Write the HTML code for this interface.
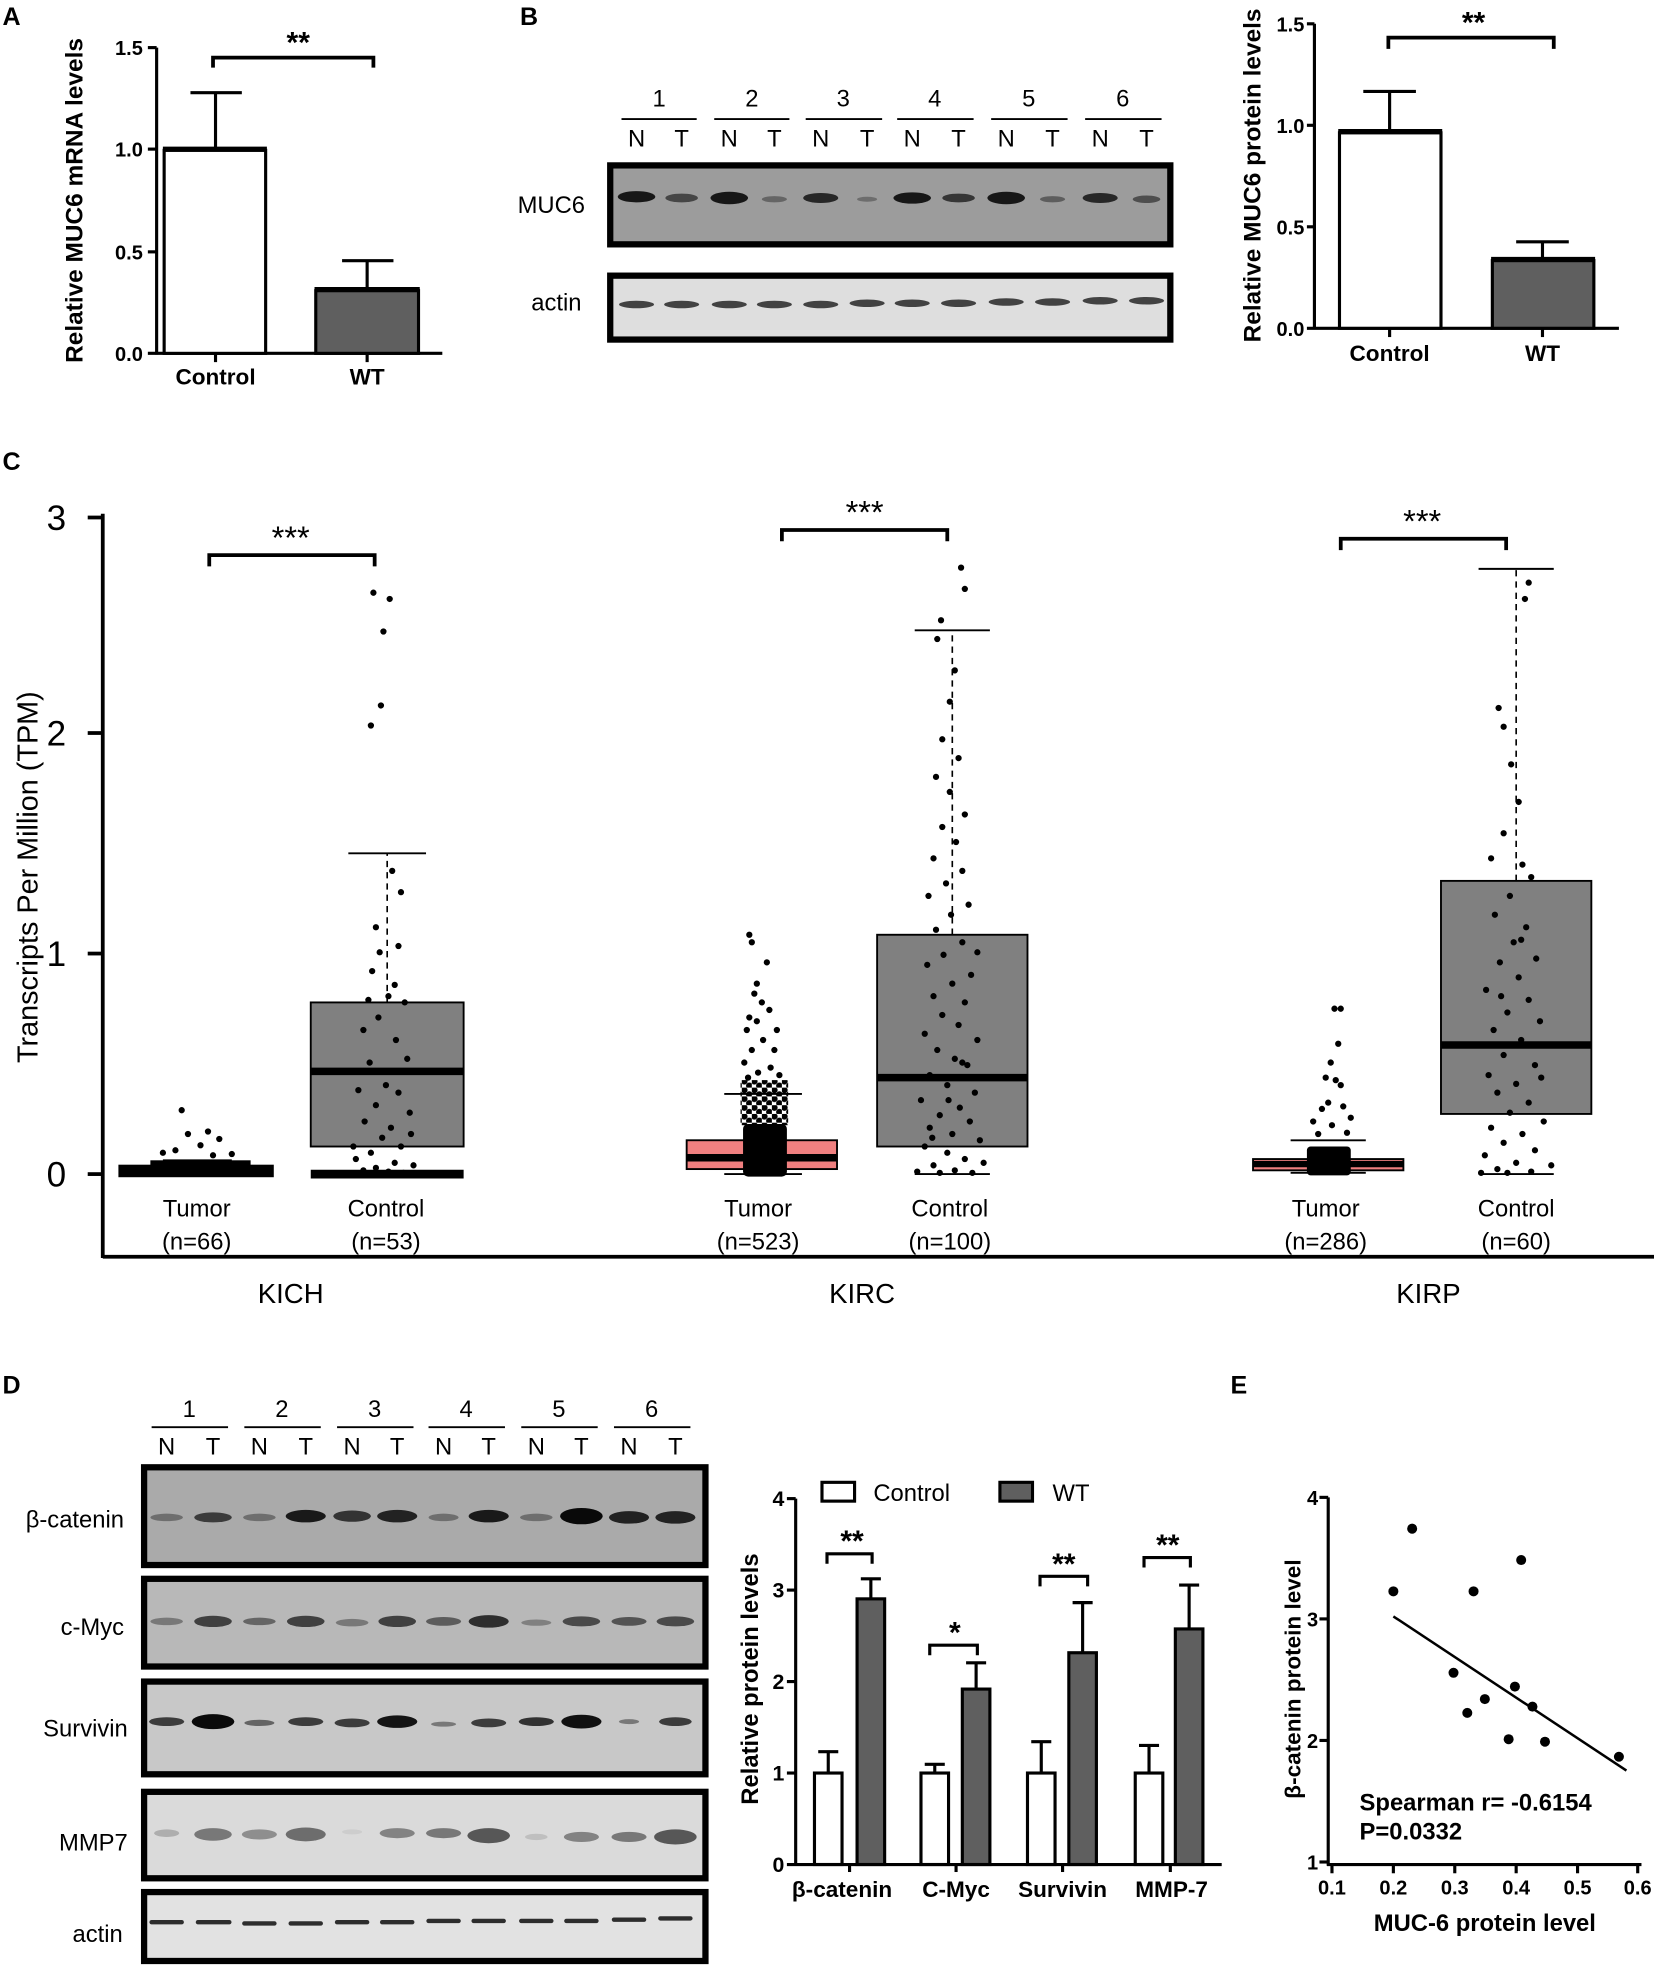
<!DOCTYPE html>
<html><head><meta charset="utf-8"><style>
html,body{margin:0;padding:0;background:#fff;}
svg{display:block;}
text{font-family:"Liberation Sans",Arial,sans-serif;fill:#000;}
.b{font-weight:bold;}
</style></head><body>
<svg xmlns="http://www.w3.org/2000/svg" width="1654" height="1966" viewBox="0 0 1320 1569">
<defs>
<pattern id="dp2" width="8" height="7" patternUnits="userSpaceOnUse">
<circle cx="2" cy="2" r="2.6" fill="#000"/><circle cx="6" cy="5.5" r="2.6" fill="#000"/>
</pattern>
</defs>
<rect width="1320" height="1569" fill="#fff"/>
<text x="2" y="20" font-size="20" class="b">A</text>
<text x="415" y="20" font-size="20" class="b">B</text>
<text x="2" y="375" font-size="20" class="b">C</text>
<text x="2" y="1112" font-size="20" class="b">D</text>
<text x="982" y="1112" font-size="20" class="b">E</text>

<!-- Panel A -->
<g stroke="#000" stroke-width="2.5" fill="none">
<line x1="125" y1="38" x2="125" y2="283"/>
<line x1="118" y1="38" x2="125" y2="38"/><line x1="118" y1="119" x2="125" y2="119"/><line x1="118" y1="201" x2="125" y2="201"/>
<line x1="118" y1="282" x2="353" y2="282"/>
<line x1="172" y1="282" x2="172" y2="289"/><line x1="293" y1="282" x2="293" y2="289"/>
<rect x="131" y="120" width="81" height="162" fill="#fff"/>
<rect x="252" y="232" width="82" height="50" fill="#5f5f5f"/>
<line x1="172" y1="119" x2="172" y2="74"/><line x1="152" y1="74" x2="193" y2="74"/>
<line x1="293" y1="231" x2="293" y2="208"/><line x1="273" y1="208" x2="314" y2="208"/>
<line x1="130" y1="119" x2="213" y2="119" stroke-width="4"/>
<line x1="251" y1="231" x2="335" y2="231" stroke-width="4"/>
<polyline points="170,54 170,46 298,46 298,54" stroke-width="3"/>
</g>
<g font-size="16" text-anchor="end" class="b">
<text x="114" y="44">1.5</text><text x="114" y="125">1.0</text><text x="114" y="207">0.5</text><text x="114" y="288">0.0</text>
</g>
<text x="172" y="307" font-size="18" class="b" text-anchor="middle">Control</text>
<text x="293" y="307" font-size="18" class="b" text-anchor="middle">WT</text>
<text x="238" y="42" font-size="24" class="b" text-anchor="middle">**</text>
<text transform="translate(66,160) rotate(-90)" font-size="19.5" class="b" text-anchor="middle">Relative MUC6 mRNA levels</text>

<!-- Panel B blot -->
<g font-size="19" text-anchor="middle">
<text x="526" y="85">1</text><text x="600" y="85">2</text><text x="673" y="85">3</text><text x="746" y="85">4</text><text x="821" y="85">5</text><text x="896" y="85">6</text>
<text x="508" y="117">N</text><text x="544" y="117">T</text><text x="582" y="117">N</text><text x="618" y="117">T</text><text x="655" y="117">N</text><text x="692" y="117">T</text>
<text x="728" y="117">N</text><text x="765" y="117">T</text><text x="803" y="117">N</text><text x="840" y="117">T</text><text x="878" y="117">N</text><text x="915" y="117">T</text>
</g>
<g stroke="#000" stroke-width="1.5">
<line x1="496" x2="556" y1="95" y2="95"/><line x1="570" x2="630" y1="95" y2="95"/><line x1="643" x2="704" y1="95" y2="95"/>
<line x1="716" x2="777" y1="95" y2="95"/><line x1="791" x2="852" y1="95" y2="95"/><line x1="866" x2="927" y1="95" y2="95"/>
</g>
<text x="440" y="170" font-size="19" text-anchor="middle">MUC6</text>
<text x="444" y="248" font-size="19" text-anchor="middle">actin</text>
<rect x="487" y="132" width="447" height="63" fill="#9c9c9c" stroke="#000" stroke-width="5"/>
<rect x="487" y="220" width="447" height="51" fill="#dedede" stroke="#000" stroke-width="5"/>
<g fill="#000">
<ellipse cx="508" cy="157" rx="15" ry="4.5" fill-opacity=".85"/><ellipse cx="544" cy="158" rx="13" ry="3.5" fill-opacity=".55"/>
<ellipse cx="582" cy="158" rx="15" ry="5" fill-opacity=".85"/><ellipse cx="618" cy="159" rx="10" ry="2.5" fill-opacity=".35"/>
<ellipse cx="655" cy="158" rx="14" ry="4" fill-opacity=".75"/><ellipse cx="692" cy="159" rx="8" ry="2" fill-opacity=".3"/>
<ellipse cx="728" cy="158" rx="15" ry="4.5" fill-opacity=".85"/><ellipse cx="765" cy="158" rx="13" ry="3.5" fill-opacity=".65"/>
<ellipse cx="803" cy="158" rx="15" ry="5" fill-opacity=".85"/><ellipse cx="840" cy="159" rx="10" ry="2.5" fill-opacity=".4"/>
<ellipse cx="878" cy="158" rx="14" ry="4" fill-opacity=".75"/><ellipse cx="915" cy="159" rx="11" ry="3" fill-opacity=".5"/>
<ellipse cx="508" cy="243" rx="14" ry="3" fill-opacity=".7"/><ellipse cx="544" cy="243" rx="14" ry="3" fill-opacity=".7"/>
<ellipse cx="582" cy="243" rx="14" ry="3" fill-opacity=".7"/><ellipse cx="618" cy="243" rx="14" ry="3" fill-opacity=".7"/>
<ellipse cx="655" cy="243" rx="14" ry="3" fill-opacity=".7"/><ellipse cx="692" cy="242" rx="14" ry="3" fill-opacity=".7"/>
<ellipse cx="728" cy="242" rx="14" ry="3" fill-opacity=".7"/><ellipse cx="765" cy="242" rx="14" ry="3" fill-opacity=".7"/>
<ellipse cx="803" cy="241" rx="14" ry="3" fill-opacity=".7"/><ellipse cx="840" cy="241" rx="14" ry="3" fill-opacity=".7"/>
<ellipse cx="878" cy="240" rx="14" ry="3" fill-opacity=".7"/><ellipse cx="915" cy="240" rx="14" ry="3" fill-opacity=".7"/>
</g>

<!-- Panel B chart -->
<g stroke="#000" stroke-width="2.5" fill="none">
<line x1="1049" y1="19" x2="1049" y2="263"/>
<line x1="1043" y1="19" x2="1049" y2="19"/><line x1="1043" y1="100" x2="1049" y2="100"/><line x1="1043" y1="181" x2="1049" y2="181"/>
<line x1="1043" y1="262" x2="1292" y2="262"/>
<line x1="1109" y1="262" x2="1109" y2="269"/><line x1="1231" y1="262" x2="1231" y2="269"/>
<rect x="1069" y="106" width="81" height="156" fill="#fff"/>
<rect x="1191" y="208" width="81" height="54" fill="#5f5f5f"/>
<line x1="1109" y1="105" x2="1109" y2="73"/><line x1="1088" y1="73" x2="1130" y2="73"/>
<line x1="1231" y1="207" x2="1231" y2="193"/><line x1="1210" y1="193" x2="1252" y2="193"/>
<line x1="1068" y1="105" x2="1151" y2="105" stroke-width="4"/>
<line x1="1190" y1="207" x2="1273" y2="207" stroke-width="4"/>
<polyline points="1108,39 1108,30 1240,30 1240,39" stroke-width="3"/>
</g>
<g font-size="16" text-anchor="end" class="b">
<text x="1041" y="25">1.5</text><text x="1041" y="106">1.0</text><text x="1041" y="187">0.5</text><text x="1041" y="268">0.0</text>
</g>
<text transform="translate(1006,140) rotate(-90)" font-size="19.5" class="b" text-anchor="middle">Relative MUC6 protein levels</text>
<text x="1109" y="288" font-size="18" class="b" text-anchor="middle">Control</text>
<text x="1231" y="288" font-size="18" class="b" text-anchor="middle">WT</text>
<text x="1176" y="26" font-size="24" class="b" text-anchor="middle">**</text>

<!-- Panel C -->
<g stroke="#000" stroke-width="3" fill="none">
<line x1="82" y1="410" x2="82" y2="1004"/>
<line x1="82" y1="1003" x2="1320" y2="1003"/>
<line x1="70" y1="413" x2="82" y2="413"/><line x1="70" y1="585" x2="82" y2="585"/><line x1="70" y1="761" x2="82" y2="761"/><line x1="70" y1="937" x2="82" y2="937"/>
</g>
<g font-size="28" text-anchor="middle">
<text x="45" y="423">3</text><text x="45" y="595">2</text><text x="45" y="771">1</text><text x="45" y="947">0</text>
</g>
<text transform="translate(30,700) rotate(-90)" font-size="23" text-anchor="middle">Transcripts Per Million (TPM)</text>
<g stroke="#000" stroke-width="1.5">
<rect x="248" y="800" width="122" height="115" fill="#808080"/>
<rect x="700" y="746" width="120" height="169" fill="#808080"/>
<rect x="1150" y="703" width="120" height="186" fill="#808080"/>
<rect x="548" y="910" width="120" height="23" fill="#f08080"/>
<rect x="1000" y="925" width="120" height="9" fill="#f08080"/>
</g>
<g stroke="#000" fill="none">
<rect x="95" y="930" width="123" height="9" fill="#000"/>
<line x1="248" y1="937" x2="370" y2="937" stroke-width="7"/>
<line x1="248" y1="855" x2="370" y2="855" stroke-width="6"/>
<line x1="700" y1="860" x2="820" y2="860" stroke-width="6"/>
<line x1="1150" y1="834" x2="1270" y2="834" stroke-width="6"/>
<line x1="548" y1="924" x2="668" y2="924" stroke-width="6"/>
<line x1="1000" y1="929" x2="1120" y2="929" stroke-width="5"/>
<line x1="309" y1="800" x2="309" y2="681" stroke-dasharray="5,4" stroke-width="1.3"/>
<line x1="760" y1="746" x2="760" y2="503" stroke-dasharray="5,4" stroke-width="1.3"/>
<line x1="1210" y1="703" x2="1210" y2="454" stroke-dasharray="5,4" stroke-width="1.3"/>
<g stroke-width="1.5">
<line x1="278" y1="681" x2="340" y2="681"/>
<line x1="730" y1="503" x2="790" y2="503"/><line x1="730" y1="937" x2="790" y2="937"/>
<line x1="1180" y1="454" x2="1240" y2="454"/><line x1="1180" y1="937" x2="1240" y2="937"/>
<line x1="578" y1="873" x2="640" y2="873"/><line x1="578" y1="937" x2="640" y2="937"/>
<line x1="1030" y1="910" x2="1090" y2="910"/><line x1="1030" y1="936" x2="1090" y2="936"/>
<line x1="130" y1="926" x2="185" y2="926"/>
</g>
<polyline points="167,452 167,443 299,443 299,452" stroke-width="3"/>
<polyline points="624,432 624,423 756,423 756,432" stroke-width="3"/>
<polyline points="1070,439 1070,430 1202,430 1202,439" stroke-width="3"/>
</g>
<!-- dense dot clouds -->
<rect x="593" y="897" width="35" height="42" rx="4" fill="#000"/>
<rect x="591" y="862" width="38" height="36" fill="url(#dp2)"/>
<rect x="1043" y="915" width="35" height="23" rx="3" fill="#000"/>
<rect x="120" y="926" width="80" height="6" fill="#000"/>
<path fill="none" stroke="#000" stroke-width="5" stroke-linecap="round" d="
M145 886h0M150 905h0M175 909h0M160 914h0M130 920h0M185 921h0M166 903h0M140 918h0M170 922h0
M298 473h0M311 478h0M306 504h0M304 563h0M296 579h0M313 695h0M320 712h0M300 740h0M318 755h0M297 775h0M310 795h0M323 800h0M302 812h0M290 822h0M316 830h0M325 845h0M295 848h0M308 866h0M286 870h0M318 872h0M300 882h0M327 888h0M291 895h0M312 900h0M305 908h0M320 915h0M296 920h0M284 925h0M315 928h0M300 932h0M330 930h0M290 934h0M310 935h0M322 936h0M303 760h0M294 798h0M315 786h0M282 915h0M328 905h0
M598 746h0M600 752h0M612 768h0M604 785h0M602 793h0M608 800h0M614 806h0M598 812h0M604 815h0M596 822h0M620 822h0M609 830h0M600 838h0M618 838h0M594 848h0M615 852h0M605 856h0M622 858h0M597 860h0
M1065 805h0M1070 805h0M1068 833h0M1062 848h0M1058 860h0M1066 862h0M1070 866h0M1060 880h0M1055 885h0M1072 883h0M1048 895h0M1078 892h0M1063 898h0M1052 905h0M1075 904h0
M767 453h0M770 470h0M751 495h0M748 510h0M762 535h0M758 560h0M752 590h0M765 605h0M747 620h0M758 632h0M770 650h0M752 660h0M763 672h0M745 685h0M768 695h0M755 705h0M741 715h0M773 722h0M759 730h0M747 742h0M768 752h0M753 762h0M740 770h0M775 778h0M760 785h0M745 795h0M770 800h0M752 810h0M765 818h0M738 825h0M780 830h0M748 838h0M762 845h0M772 850h0M742 858h0M756 866h0M778 872h0M735 878h0M766 884h0M750 890h0M774 895h0M742 900h0M760 905h0M782 910h0M738 915h0M756 920h0M770 925h0M745 930h0M762 934h0M785 928h0M732 935h0M776 936h0M750 936h0M768 848h0M757 878h0M744 908h0M780 760h0
M1220 465h0M1217 478h0M1196 565h0M1200 580h0M1206 610h0M1212 640h0M1200 665h0M1215 690h0M1190 685h0M1222 700h0M1205 715h0M1193 730h0M1218 740h0M1208 752h0M1226 765h0M1197 768h0M1212 780h0M1186 790h0M1220 798h0M1203 808h0M1229 815h0M1192 822h0M1214 830h0M1200 842h0M1225 850h0M1188 858h0M1210 865h0M1195 872h0M1220 880h0M1205 888h0M1232 895h0M1190 900h0M1215 905h0M1200 912h0M1225 918h0M1185 922h0M1210 928h0M1195 933h0M1222 935h0M1238 930h0M1203 936h0M1182 936h0M1214 750h0M1198 795h0M1230 860h0
"/>
<g font-size="26" text-anchor="middle">
<text x="232" y="438">***</text><text x="690" y="418">***</text><text x="1135" y="425">***</text>
</g>
<g font-size="19" text-anchor="middle">
<text x="157" y="971">Tumor</text><text x="157" y="997">(n=66)</text>
<text x="308" y="971">Control</text><text x="308" y="997">(n=53)</text>
<text x="605" y="971">Tumor</text><text x="605" y="997">(n=523)</text>
<text x="758" y="971">Control</text><text x="758" y="997">(n=100)</text>
<text x="1058" y="971">Tumor</text><text x="1058" y="997">(n=286)</text>
<text x="1210" y="971">Control</text><text x="1210" y="997">(n=60)</text>
</g>
<g font-size="22" text-anchor="middle">
<text x="232" y="1040">KICH</text><text x="688" y="1040">KIRC</text><text x="1140" y="1040">KIRP</text>
</g>

<!-- Panel D blots -->
<g font-size="19" text-anchor="middle">
<text x="151" y="1131">1</text><text x="225" y="1131">2</text><text x="299" y="1131">3</text><text x="372" y="1131">4</text><text x="446" y="1131">5</text><text x="520" y="1131">6</text>
<text x="133" y="1161">N</text><text x="170" y="1161">T</text><text x="207" y="1161">N</text><text x="244" y="1161">T</text><text x="281" y="1161">N</text><text x="317" y="1161">T</text>
<text x="354" y="1161">N</text><text x="390" y="1161">T</text><text x="428" y="1161">N</text><text x="464" y="1161">T</text><text x="502" y="1161">N</text><text x="539" y="1161">T</text>
</g>
<g stroke="#000" stroke-width="1.5">
<line x1="121" x2="182" y1="1139" y2="1139"/><line x1="195" x2="256" y1="1139" y2="1139"/><line x1="269" x2="330" y1="1139" y2="1139"/>
<line x1="342" x2="403" y1="1139" y2="1139"/><line x1="416" x2="477" y1="1139" y2="1139"/><line x1="490" x2="551" y1="1139" y2="1139"/>
</g>
<g font-size="19" text-anchor="end">
<text x="99" y="1219">β-catenin</text>
<text x="99" y="1305">c-Myc</text>
<text x="102" y="1386">Survivin</text>
<text x="102" y="1477">MMP7</text>
<text x="98" y="1550">actin</text>
</g>
<g stroke="#000" stroke-width="5">
<rect x="115" y="1171" width="448" height="78" fill="#aaa"/>
<rect x="115" y="1260" width="448" height="70" fill="#b8b8b8"/>
<rect x="115" y="1342" width="448" height="74" fill="#c8c8c8"/>
<rect x="115" y="1430" width="448" height="69" fill="#dadada"/>
<rect x="115" y="1510" width="448" height="55" fill="#e2e2e2"/>
</g>
<g fill="#000">
<ellipse cx="133" cy="1211" rx="13" ry="3" fill-opacity=".35"/><ellipse cx="170" cy="1211" rx="15" ry="4" fill-opacity=".65"/>
<ellipse cx="207" cy="1211" rx="13" ry="3" fill-opacity=".35"/><ellipse cx="244" cy="1210" rx="16" ry="5" fill-opacity=".85"/>
<ellipse cx="281" cy="1210" rx="15" ry="4.5" fill-opacity=".7"/><ellipse cx="317" cy="1210" rx="16" ry="5" fill-opacity=".8"/>
<ellipse cx="354" cy="1211" rx="12" ry="3" fill-opacity=".35"/><ellipse cx="390" cy="1210" rx="16" ry="5" fill-opacity=".85"/>
<ellipse cx="428" cy="1211" rx="13" ry="3" fill-opacity=".35"/><ellipse cx="464" cy="1210" rx="17" ry="6.5" fill-opacity=".95"/>
<ellipse cx="502" cy="1211" rx="16" ry="5" fill-opacity=".8"/><ellipse cx="539" cy="1211" rx="16" ry="5" fill-opacity=".8"/>
<ellipse cx="133" cy="1294" rx="13" ry="3" fill-opacity=".35"/><ellipse cx="170" cy="1294" rx="15" ry="4.5" fill-opacity=".65"/>
<ellipse cx="207" cy="1294" rx="13" ry="3" fill-opacity=".45"/><ellipse cx="244" cy="1294" rx="15" ry="4.5" fill-opacity=".65"/>
<ellipse cx="281" cy="1295" rx="13" ry="3" fill-opacity=".35"/><ellipse cx="317" cy="1294" rx="15" ry="4.5" fill-opacity=".65"/>
<ellipse cx="354" cy="1294" rx="14" ry="3.5" fill-opacity=".5"/><ellipse cx="390" cy="1294" rx="16" ry="5" fill-opacity=".75"/>
<ellipse cx="428" cy="1295" rx="12" ry="2.5" fill-opacity=".3"/><ellipse cx="464" cy="1294" rx="15" ry="4" fill-opacity=".6"/>
<ellipse cx="502" cy="1294" rx="14" ry="3.5" fill-opacity=".55"/><ellipse cx="539" cy="1294" rx="15" ry="4" fill-opacity=".6"/>
<ellipse cx="133" cy="1374" rx="14" ry="3.5" fill-opacity=".7"/><ellipse cx="170" cy="1374" rx="17" ry="6" fill-opacity=".95"/>
<ellipse cx="207" cy="1375" rx="12" ry="2.5" fill-opacity=".5"/><ellipse cx="244" cy="1374" rx="14" ry="3.5" fill-opacity=".7"/>
<ellipse cx="281" cy="1375" rx="14" ry="3.5" fill-opacity=".7"/><ellipse cx="317" cy="1374" rx="16" ry="5" fill-opacity=".9"/>
<ellipse cx="354" cy="1376" rx="10" ry="2" fill-opacity=".4"/><ellipse cx="390" cy="1375" rx="14" ry="3.5" fill-opacity=".7"/>
<ellipse cx="428" cy="1374" rx="14" ry="3.5" fill-opacity=".75"/><ellipse cx="464" cy="1374" rx="16" ry="5.5" fill-opacity=".92"/>
<ellipse cx="502" cy="1374" rx="8" ry="2" fill-opacity=".4"/><ellipse cx="539" cy="1374" rx="13" ry="3.5" fill-opacity=".7"/>
<ellipse cx="133" cy="1463" rx="10" ry="3" fill-opacity=".2"/><ellipse cx="170" cy="1464" rx="15" ry="5" fill-opacity=".45"/>
<ellipse cx="207" cy="1464" rx="14" ry="4" fill-opacity=".35"/><ellipse cx="244" cy="1464" rx="16" ry="5.5" fill-opacity=".5"/>
<ellipse cx="281" cy="1462" rx="8" ry="2" fill-opacity=".06"/><ellipse cx="317" cy="1463" rx="14" ry="4" fill-opacity=".4"/>
<ellipse cx="354" cy="1463" rx="14" ry="4" fill-opacity=".45"/><ellipse cx="390" cy="1465" rx="17" ry="6" fill-opacity=".6"/>
<ellipse cx="428" cy="1466" rx="9" ry="2.5" fill-opacity=".12"/><ellipse cx="464" cy="1466" rx="14" ry="4" fill-opacity=".4"/>
<ellipse cx="502" cy="1466" rx="14" ry="4" fill-opacity=".45"/><ellipse cx="539" cy="1466" rx="17" ry="6" fill-opacity=".6"/>
</g>
<g stroke="#000" stroke-width="3.5" stroke-linecap="round" stroke-opacity=".8">
<line x1="121" x2="145" y1="1534" y2="1534"/><line x1="158" x2="183" y1="1534" y2="1534"/>
<line x1="195" x2="219" y1="1535" y2="1535"/><line x1="232" x2="256" y1="1535" y2="1535"/>
<line x1="269" x2="293" y1="1534" y2="1534"/><line x1="305" x2="329" y1="1534" y2="1534"/>
<line x1="342" x2="366" y1="1533" y2="1533"/><line x1="378" x2="402" y1="1533" y2="1533"/>
<line x1="416" x2="440" y1="1533" y2="1533"/><line x1="452" x2="476" y1="1533" y2="1533"/>
<line x1="490" x2="514" y1="1532" y2="1532"/><line x1="527" x2="551" y1="1531" y2="1531"/>
</g>

<!-- Panel D chart -->
<g stroke="#000" stroke-width="2.5" fill="none">
<line x1="635" y1="1196" x2="635" y2="1489"/>
<line x1="628" y1="1196" x2="635" y2="1196"/><line x1="628" y1="1269" x2="635" y2="1269"/><line x1="628" y1="1342" x2="635" y2="1342"/><line x1="628" y1="1415" x2="635" y2="1415"/>
<line x1="628" y1="1488" x2="975" y2="1488"/>
<line x1="678" y1="1488" x2="678" y2="1494"/><line x1="763" y1="1488" x2="763" y2="1494"/><line x1="848" y1="1488" x2="848" y2="1494"/><line x1="934" y1="1488" x2="934" y2="1494"/>
<line x1="661" x2="661" y1="1415" y2="1398"/><line x1="653" x2="669" y1="1398" y2="1398"/>
<line x1="695" x2="695" y1="1276" y2="1260"/><line x1="687" x2="703" y1="1260" y2="1260"/>
<line x1="746" x2="746" y1="1415" y2="1408"/><line x1="738" x2="754" y1="1408" y2="1408"/>
<line x1="779" x2="779" y1="1348" y2="1327"/><line x1="771" x2="787" y1="1327" y2="1327"/>
<line x1="831" x2="831" y1="1415" y2="1390"/><line x1="823" x2="839" y1="1390" y2="1390"/>
<line x1="864" x2="864" y1="1319" y2="1279"/><line x1="856" x2="872" y1="1279" y2="1279"/>
<line x1="917" x2="917" y1="1415" y2="1393"/><line x1="909" x2="925" y1="1393" y2="1393"/>
<line x1="949" x2="949" y1="1300" y2="1265"/><line x1="941" x2="957" y1="1265" y2="1265"/>
<rect x="650" y="1415" width="22" height="73" fill="#fff"/><rect x="684" y="1276" width="22" height="212" fill="#5f5f5f"/>
<rect x="735" y="1415" width="22" height="73" fill="#fff"/><rect x="768" y="1348" width="22" height="140" fill="#5f5f5f"/>
<rect x="820" y="1415" width="22" height="73" fill="#fff"/><rect x="853" y="1319" width="22" height="169" fill="#5f5f5f"/>
<rect x="906" y="1415" width="22" height="73" fill="#fff"/><rect x="938" y="1300" width="22" height="188" fill="#5f5f5f"/>
<polyline points="660,1248 660,1240 696,1240 696,1248"/>
<polyline points="742,1321 742,1313 780,1313 780,1321"/>
<polyline points="830,1266 830,1258 868,1258 868,1266"/>
<polyline points="913,1251 913,1243 950,1243 950,1251"/>
</g>
<g font-size="17" text-anchor="end" class="b">
<text x="626" y="1202">4</text><text x="626" y="1275">3</text><text x="626" y="1348">2</text><text x="626" y="1421">1</text><text x="626" y="1494">0</text>
</g>
<text transform="translate(605,1340) rotate(-90)" font-size="19" class="b" text-anchor="middle">Relative protein levels</text>
<g font-size="18" class="b" text-anchor="middle">
<text x="672" y="1514">β-catenin</text><text x="763" y="1514">C-Myc</text><text x="848" y="1514">Survivin</text><text x="935" y="1514">MMP-7</text>
</g>
<rect x="656" y="1183" width="26" height="15" fill="#fff" stroke="#000" stroke-width="2.5"/>
<text x="697" y="1198" font-size="19">Control</text>
<rect x="798" y="1183" width="26" height="15" fill="#5f5f5f" stroke="#000" stroke-width="2.5"/>
<text x="840" y="1198" font-size="19">WT</text>
<g font-size="24" text-anchor="middle" class="b">
<text x="680" y="1238">**</text><text x="762" y="1311">*</text><text x="849" y="1256">**</text><text x="932" y="1241">**</text>
</g>

<!-- Panel E -->
<g stroke="#000" stroke-width="2.5" fill="none">
<line x1="1060" y1="1195" x2="1060" y2="1489"/>
<line x1="1053" y1="1195" x2="1060" y2="1195"/><line x1="1053" y1="1292" x2="1060" y2="1292"/><line x1="1053" y1="1389" x2="1060" y2="1389"/><line x1="1053" y1="1486" x2="1060" y2="1486"/>
<line x1="1059" y1="1488" x2="1310" y2="1488"/>
<line x1="1063" y1="1488" x2="1063" y2="1495"/><line x1="1112" y1="1488" x2="1112" y2="1495"/><line x1="1161" y1="1488" x2="1161" y2="1495"/><line x1="1210" y1="1488" x2="1210" y2="1495"/><line x1="1259" y1="1488" x2="1259" y2="1495"/><line x1="1307" y1="1488" x2="1307" y2="1495"/>
<line x1="1112" y1="1290" x2="1298" y2="1413" stroke-width="2"/>
</g>
<g font-size="16" class="b" text-anchor="end">
<text x="1052" y="1201">4</text><text x="1052" y="1298">3</text><text x="1052" y="1395">2</text><text x="1052" y="1492">1</text>
</g>
<g font-size="16" class="b" text-anchor="middle">
<text x="1063" y="1512">0.1</text><text x="1112" y="1512">0.2</text><text x="1161" y="1512">0.3</text><text x="1210" y="1512">0.4</text><text x="1259" y="1512">0.5</text><text x="1307" y="1512">0.6</text>
</g>
<g fill="#000">
<circle cx="1112" cy="1270" r="4"/><circle cx="1127" cy="1220" r="4"/><circle cx="1176" cy="1270" r="4"/><circle cx="1214" cy="1245" r="4"/>
<circle cx="1160" cy="1335" r="4"/><circle cx="1171" cy="1367" r="4"/><circle cx="1185" cy="1356" r="4"/><circle cx="1204" cy="1388" r="4"/>
<circle cx="1209" cy="1346" r="4"/><circle cx="1223" cy="1362" r="4"/><circle cx="1233" cy="1390" r="4"/><circle cx="1292" cy="1402" r="4"/>
</g>
<text x="1085" y="1445" font-size="19" class="b">Spearman r= -0.6154</text>
<text x="1085" y="1468" font-size="19" class="b">P=0.0332</text>
<text x="1185" y="1541" font-size="19" class="b" text-anchor="middle">MUC-6 protein level</text>
<text transform="translate(1038,1340) rotate(-90)" font-size="18" class="b" text-anchor="middle">β-catenin protein level</text>
</svg>
</body></html>
